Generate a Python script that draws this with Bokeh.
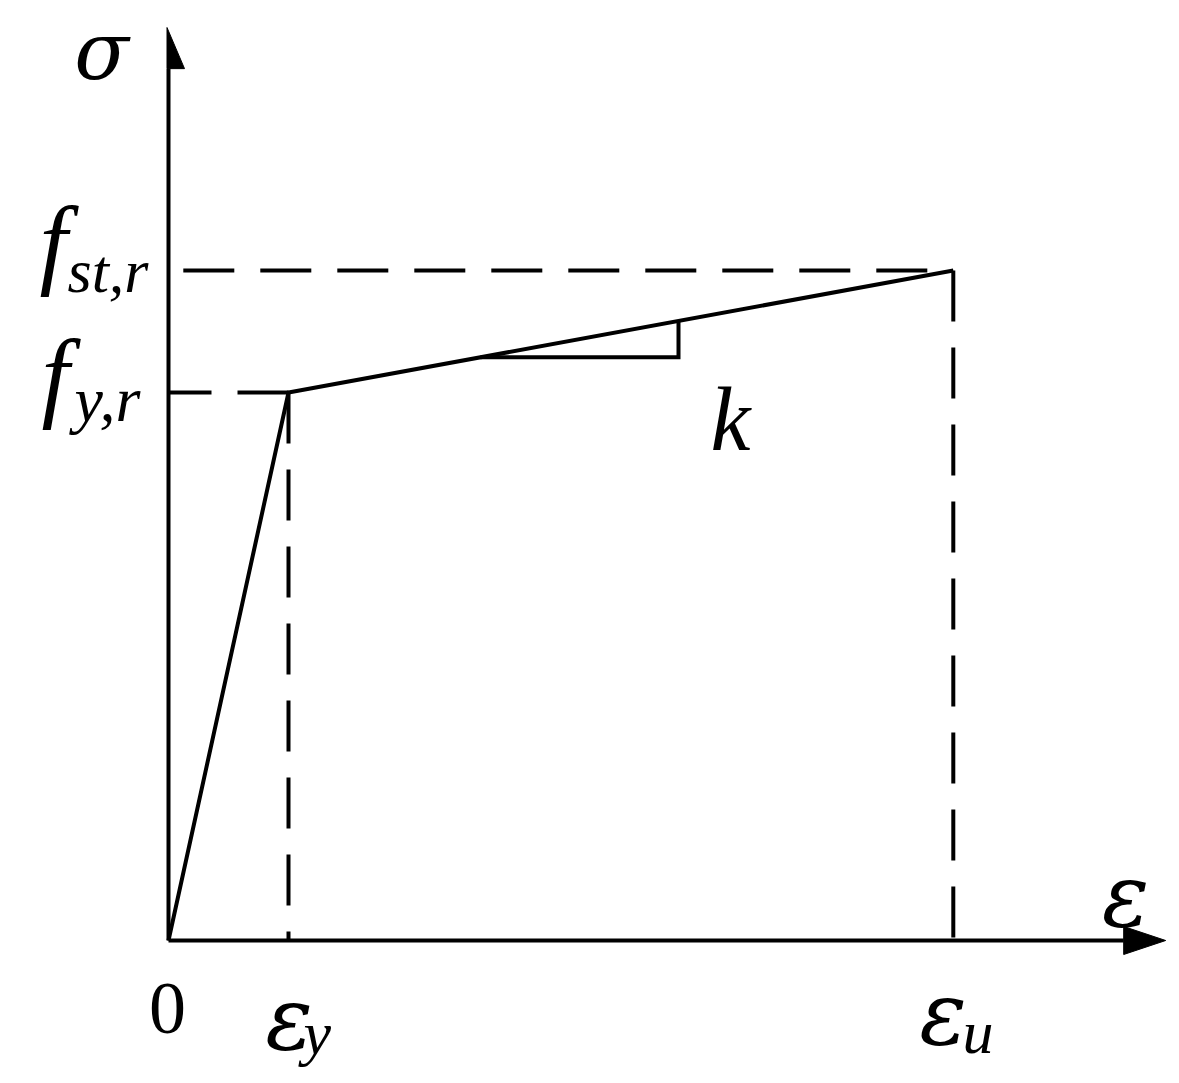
import numpy as np
from bokeh.plotting import figure
from bokeh.models import Range1d
from bokeh.core.properties import value
from bokeh.embed import file_html
from bokeh.resources import INLINE

# ---- data (normalised: strain in units of eps_y, stress in units of f_y) ----
strain = [0.0, 1.0, 6.54]          # 0, eps_y, eps_u
stress = [0.0, 1.0, 1.2226]        # 0, f_y,r, f_st,r
slope_tri_x = [2.6, 4.25]          # extent of the slope (k) triangle
axis_x_end, axis_x_tip = 7.96, 8.31
axis_y_end, axis_y_tip = 1.591, 1.666

# ---- layout ----
W, H = 1171, 1075
SX, SY = 120.0, 548.0          # px per data unit
OX, OY = 168.0, 940.0          # origin in picture pixels

def X(px):
    return (px - OX) / SX

def Y(py):
    return (OY - py) / SY

p = figure(width=W, height=H, output_backend="svg", toolbar_location=None,
           x_range=Range1d(X(0), X(W)), y_range=Range1d(Y(H), Y(0)),
           min_border=0, outline_line_color=None)
p.axis.visible = False
p.grid.visible = False
p.background_fill_color = "white"
p.border_fill_color = "white"

LW = 4
DASH = "51 26"

# axes
p.line([0, axis_x_end], [0, 0], line_color="black", line_width=LW)
p.line([0, 0], [0, axis_y_end], line_color="black", line_width=LW)
p.patch([axis_x_end, axis_x_tip, axis_x_end], [0.02555, 0, -0.02555], color="black")
p.patch([-1.5 / SX, 16 / SX, -1.5 / SX], [axis_y_end, axis_y_end, axis_y_tip], color="black")

# dashed guides (drawn from the curve's vertices towards the axes)
p.line([strain[1], 0], [stress[1], stress[1]], line_color="black", line_width=LW, line_dash=DASH)
p.line([strain[2], 0], [stress[2], stress[2]], line_color="black", line_width=LW, line_dash=DASH,
       line_dash_offset=51)
p.line([strain[1], strain[1]], [stress[1], 0], line_color="black", line_width=LW, line_dash=DASH)
p.line([strain[2], strain[2]], [stress[2], 0], line_color="black", line_width=LW, line_dash=DASH)

# stress-strain curve
p.line(strain, stress, line_color="black", line_width=LW, line_join="miter")

# slope triangle
ty = np.interp(slope_tri_x, strain, stress)
p.line([slope_tri_x[0], slope_tri_x[1], slope_tri_x[1]], [ty[0], ty[0], ty[1]],
       line_color="black", line_width=LW, line_join="miter")

SERIF = value("Liberation Serif")
GREEK = value("DejaVu Serif")

def txt(s, px, py, size, align="left", style="italic", font=SERIF):
    # empirical baseline correction of the svg text placement
    py = py - 0.34 * size
    p.text(x=[X(px)], y=[Y(py)], text=[s], text_font=font, text_font_style=style,
           text_font_size=f"{size}px", text_align=align, text_baseline="alphabetic",
           text_color="black")

MAIN = 100
SUB = 62
G = 88
txt("σ", 101, 78, 80, "center", font=GREEK)
txt("ε", 1125, 925, G, "center", font=GREEK)
txt("0", 167, 1033, 74, "center", "normal")
txt("ε", 288.5, 1048, G, "center", font=GREEK)
txt("y", 303, 1054, SUB)
txt("ε", 942.5, 1043, G, "center", font=GREEK)
txt("u", 962, 1053, SUB)
txt("f", 53, 276, MAIN, "center")
txt("st,r", 67, 292, SUB)
txt("f", 55, 409, MAIN, "center")
txt("y,r", 74, 421, 64)
txt("k", 730, 450, 90, "center")

open("out.html", "w").write(file_html(p, INLINE))
